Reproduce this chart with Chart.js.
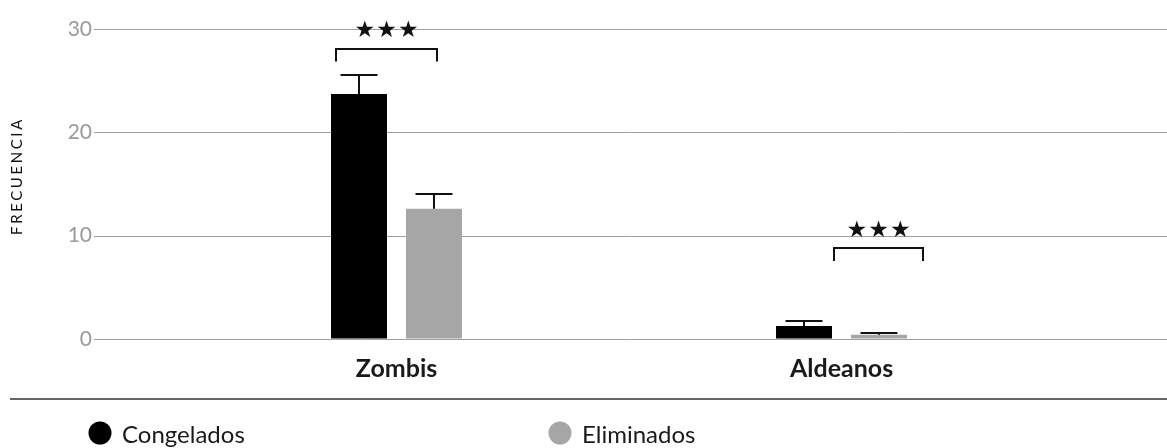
<!DOCTYPE html>
<html>
<head>
<meta charset="utf-8">
<script src="https://cdn.jsdelivr.net/npm/chart.js@4.4.1/dist/chart.umd.min.js"></script>
<style>
  html, body { margin: 0; padding: 0; background: #fff; }
  #wrap { width: 1167px; height: 448px; position: relative; }
</style>
</head>
<body>
<div id="wrap"><canvas id="chart" width="1167" height="448"></canvas></div>
<script>
// Categories and series
const categories = ['Zombis', 'Aldeanos'];
const seriesNames = ['Congelados', 'Eliminados'];
const congelados = [23.7, 1.25];
const eliminados = [12.6, 0.4];
// Upper end of each error bar
const congeladosErr = [25.55, 1.75];
const eliminadosErr = [14.0, 0.55];
// Y-axis ticks
const yTicks = [0, 10, 20, 30];
// Significance brackets (x in category units, y in data units)
const bracketFrom = [-0.136, 0.983];
const bracketTo = [0.091, 1.183];
const bracketTop = [28.1, 8.8];
const bracketLeg = [26.85, 7.55];
const bracketLabelY = [29.8, 10.45];
const bracketLabels = ['★★★', '★★★'];

const FONT = 'Lato, "Noto Sans", sans-serif';
const colors = ['#000000', '#a6a6a6'];

// Grid lines extend past the plot area to the right edge
const gridPlugin = {
  id: 'fullGrid',
  beforeDatasetsDraw(chart) {
    const { ctx, scales: { y } } = chart;
    ctx.save();
    ctx.strokeStyle = '#a0a0a0';
    ctx.lineWidth = 1;
    yTicks.forEach(v => {
      const py = Math.round(y.getPixelForValue(v)) + 0.5;
      ctx.beginPath();
      ctx.moveTo(94, py);
      ctx.lineTo(chart.width, py);
      ctx.stroke();
    });
    ctx.restore();
  }
};

// Error bars, brackets, axis title, separator and legend
const overlayPlugin = {
  id: 'overlay',
  afterDatasetsDraw(chart) {
    const { ctx, scales: { x, y } } = chart;
    ctx.save();
    // error bars
    const errs = [congeladosErr, eliminadosErr];
    chart.data.datasets.forEach((ds, di) => {
      const meta = chart.getDatasetMeta(di);
      meta.data.forEach((bar, i) => {
        const top = Math.round(y.getPixelForValue(errs[di][i]));
        const base = bar.y;
        const half = bar.width * 0.33;
        ctx.strokeStyle = '#111';
        ctx.lineWidth = 2;
        ctx.beginPath();
        ctx.moveTo(bar.x, base);
        ctx.lineTo(bar.x, top);
        ctx.moveTo(bar.x - half, top);
        ctx.lineTo(bar.x + half, top);
        ctx.stroke();
      });
    });
    // brackets
    bracketFrom.forEach((f, i) => {
      const x1 = Math.round(x.getPixelForValue(f));
      const x2 = Math.round(x.getPixelForValue(bracketTo[i]));
      const yt = Math.round(y.getPixelForValue(bracketTop[i]));
      const yl = y.getPixelForValue(bracketLeg[i]);
      ctx.strokeStyle = '#111';
      ctx.lineWidth = 2;
      ctx.beginPath();
      ctx.moveTo(x1, yl);
      ctx.lineTo(x1, yt);
      ctx.lineTo(x2, yt);
      ctx.lineTo(x2, yl);
      ctx.stroke();
      const cx = (x1 + x2) / 2;
      const cy = y.getPixelForValue(bracketLabelY[i]);
      ctx.fillStyle = '#111';
      ctx.font = '23px "DejaVu Sans"';
      ctx.textAlign = 'center';
      ctx.textBaseline = 'middle';
      const stars = Array.from(bracketLabels[i]);
      stars.forEach((s, k) => {
        ctx.fillText(s, cx + (k - (stars.length - 1) / 2) * 21.7, cy);
      });
    });
    // y-axis title
    ctx.save();
    ctx.translate(17, 176);
    ctx.rotate(-Math.PI / 2);
    ctx.fillStyle = '#111';
    ctx.font = '15px ' + FONT;
    ctx.letterSpacing = '2.6px';
    ctx.textAlign = 'center';
    ctx.textBaseline = 'middle';
    ctx.fillText('FRECUENCIA', 0, 0);
    ctx.restore();
    // separator
    ctx.strokeStyle = '#333';
    ctx.lineWidth = 1.5;
    ctx.beginPath();
    ctx.moveTo(10, 399);
    ctx.lineTo(chart.width, 399);
    ctx.stroke();
    // legend
    const legendX = [100, 560];
    chart.data.datasets.forEach((ds, di) => {
      ctx.fillStyle = ds.backgroundColor;
      ctx.beginPath();
      ctx.arc(legendX[di], 433, 11.5, 0, Math.PI * 2);
      ctx.fill();
      ctx.fillStyle = '#1a1a1a';
      ctx.font = '24px ' + FONT;
      ctx.textAlign = 'left';
      ctx.textBaseline = 'middle';
      ctx.fillText(ds.label, legendX[di] + 22, 435);
    });
    ctx.restore();
  }
};

new Chart(document.getElementById('chart'), {
  type: 'bar',
  data: {
    labels: categories,
    datasets: [
      { label: seriesNames[0], data: congelados, backgroundColor: colors[0] },
      { label: seriesNames[1], data: eliminados, backgroundColor: colors[1] }
    ]
  },
  options: {
    responsive: false,
    animation: false,
    events: [],
    layout: { padding: { top: 29, right: 103, left: 0, bottom: 0 } },
    datasets: { bar: { categoryPercentage: 0.337, barPercentage: 0.7467 } },
    plugins: { legend: { display: false }, tooltip: { enabled: false } },
    scales: {
      x: {
        grid: { display: false },
        border: { display: false },
        ticks: { color: '#1a1a1a', font: { family: FONT, size: 25, weight: 'bold' }, padding: 7 },
        afterFit(scale) { scale.height = 109; }
      },
      y: {
        min: 0, max: 30,
        afterBuildTicks(scale) { scale.ticks = yTicks.map(v => ({ value: v })); },
        grid: { display: true, drawOnChartArea: false, drawTicks: true, tickLength: 80, tickColor: 'rgba(0,0,0,0)' },
        border: { display: false },
        ticks: { color: '#9a9a9a', font: { family: FONT, size: 21 }, padding: 2 },
        afterFit(scale) { scale.width = 174; }
      }
    }
  },
  plugins: [gridPlugin, overlayPlugin]
});
</script>
</body>
</html>
